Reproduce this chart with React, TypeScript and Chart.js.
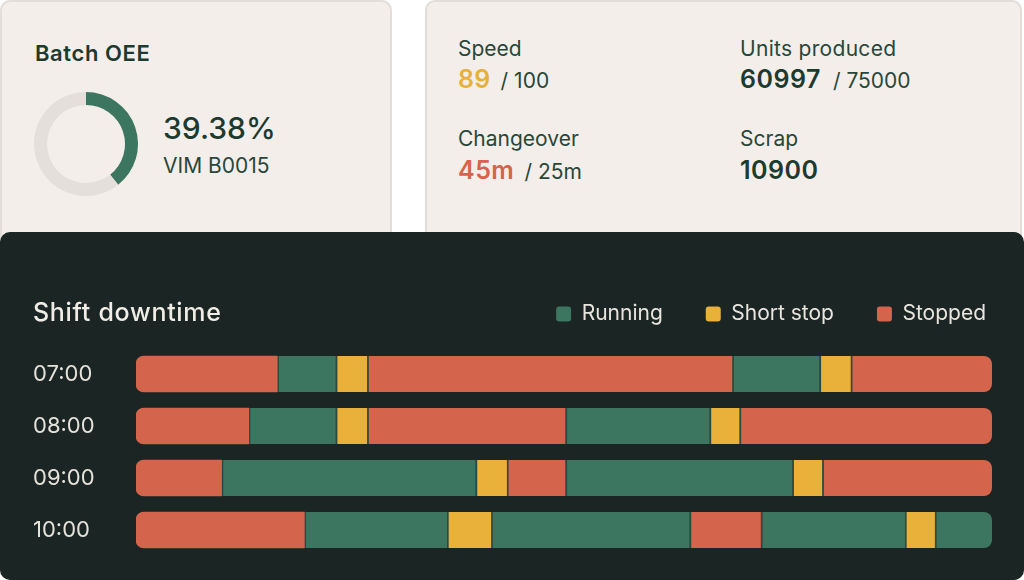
import React, { useEffect, useRef } from 'react';
import { Chart, registerables } from 'chart.js';

Chart.register(...registerables);

// ---------- data ----------
const hours = ['07:00', '08:00', '09:00', '10:00'];
const stateNames = ['Running', 'Short stop', 'Stopped'];
const stateColors = ['#3d7660', '#e9b03a', '#d4644b'];

const states07 = ['Stopped', 'Running', 'Short stop', 'Stopped', 'Running', 'Short stop', 'Stopped'];
const minutes07 = [9.9, 4.1, 2.2, 25.6, 6.1, 2.2, 9.9];
const states08 = ['Stopped', 'Running', 'Short stop', 'Stopped', 'Running', 'Short stop', 'Stopped'];
const minutes08 = [7.9, 6.1, 2.2, 13.9, 10.1, 2.1, 17.7];
const states09 = ['Stopped', 'Running', 'Short stop', 'Stopped', 'Running', 'Short stop', 'Stopped'];
const minutes09 = [6.0, 17.8, 2.2, 4.1, 15.9, 2.1, 11.9];
const states10 = ['Stopped', 'Running', 'Short stop', 'Running', 'Stopped', 'Running', 'Short stop', 'Running'];
const minutes10 = [11.8, 10.0, 3.1, 13.9, 5.0, 10.1, 2.1, 4.0];
const hourLength = 60;

const oeePercent = 39.38;
const batchCode = 'VIM B0015';
const speedValue = 89;
const speedTarget = 100;
const unitsValue = 60997;
const unitsTarget = 75000;
const changeoverValue = '45m';
const changeoverTarget = '25m';
const scrapValue = 10900;

// ---------- styles ----------
const FONT = 'Inter, "DejaVu Sans", sans-serif';
const DARK = '#1c3a2f';
const LABEL = '#28473b';
const PANEL = '#1a2524';
const SEP = '#2b4a41';

const rowStates = [states07, states08, states09, states10];
const rowMinutes = [minutes07, minutes08, minutes09, minutes10];

function Txt(props: { x: number; base: number; size: number; weight?: number; color: string; ls?: number; children: any }) {
  const { x, base, size, weight = 400, color, ls = 0, children } = props;
  return (
    <div
      style={{
        position: 'absolute',
        left: x,
        top: base - 0.864 * size,
        fontFamily: FONT,
        fontSize: size,
        fontWeight: weight,
        color,
        letterSpacing: ls,
        lineHeight: `${size}px`,
        whiteSpace: 'nowrap',
      }}
    >
      {children}
    </div>
  );
}

function Donut() {
  const ref = useRef<HTMLCanvasElement>(null);
  useEffect(() => {
    const chart = new Chart(ref.current!, {
      type: 'doughnut',
      data: {
        labels: ['OEE', 'Rest'],
        datasets: [
          {
            data: [oeePercent, 100 - oeePercent],
            backgroundColor: ['#3d7660', '#e4dfdb'],
            borderWidth: 0,
          },
        ],
      },
      options: {
        animation: false,
        responsive: false,
        maintainAspectRatio: false,
        cutout: '75%',
        plugins: { legend: { display: false }, tooltip: { enabled: false } },
        events: [],
      },
    });
    return () => chart.destroy();
  }, []);
  return <canvas ref={ref} width={104} height={104} style={{ position: 'absolute', left: 34, top: 92 }} />;
}

function Downtime() {
  const ref = useRef<HTMLCanvasElement>(null);
  useEffect(() => {
    const maxSeg = Math.max(...rowMinutes.map((m) => m.length));
    const colorOf = (s: string) => stateColors[stateNames.indexOf(s)];
    const datasets: any[] = [];
    for (let k = 0; k < maxSeg; k++) {
      const data = rowMinutes.map((mins) => {
        if (k >= mins.length) return null;
        let start = 0;
        for (let j = 0; j < k; j++) start += mins[j];
        return [start, start + mins[k]];
      });
      const bg = rowStates.map((st) => (k < st.length ? colorOf(st[k]) : 'rgba(0,0,0,0)'));
      datasets.push({
        label: 'seg' + k,
        data,
        backgroundColor: bg,
        borderColor: SEP,
        borderSkipped: false,
        grouped: false,
        barThickness: 36,
        xAxisID: 'x',
        yAxisID: 'y',
        borderWidth: () => ({ top: 0, right: 0, bottom: 0, left: k === 0 ? 0 : 2 }),
        borderRadius: (c: any) => {
          const n = rowMinutes[c.dataIndex].length;
          const first = k === 0;
          const last = k === n - 1;
          return {
            topLeft: first ? 8 : 0,
            bottomLeft: first ? 8 : 0,
            topRight: last ? 8 : 0,
            bottomRight: last ? 8 : 0,
          };
        },
      });
    }
    const chart = new Chart(ref.current!, {
      type: 'bar',
      data: { labels: hours, datasets },
      options: {
        animation: false,
        responsive: false,
        maintainAspectRatio: false,
        indexAxis: 'y',
        events: [],
        layout: { padding: { left: 33, right: 11, top: 28.5, bottom: 24 } },
        scales: {
          x: {
            type: 'linear',
            position: 'top',
            min: 0,
            max: hourLength,
            grid: { display: false },
            border: { display: false },
            ticks: { display: false },
            afterFit: (s: any) => {
              s.height = 13.5;
            },
          },
          y: {
            type: 'category',
            labels: hours,
            grid: { display: false },
            border: { display: false },
            ticks: {
              crossAlign: 'far',
              color: '#e6e2dc',
              font: { family: FONT, size: 22 },
            },
            afterFit: (s: any) => {
              s.width = 103;
            },
          },
          yRight: {
            type: 'linear',
            position: 'right',
            grid: { display: false },
            border: { display: false },
            ticks: { display: false },
            afterFit: (s: any) => {
              s.width = 37;
            },
          },
        },
        plugins: {
          tooltip: { enabled: false },
          legend: {
            position: 'top',
            align: 'end',
            onClick: () => {},
            labels: {
              boxWidth: 15,
              boxHeight: 15,
              padding: 43,
              color: '#e9e4de',
              useBorderRadius: true,
              borderRadius: 3,
              font: { family: FONT, size: 21 },
              generateLabels: () =>
                stateNames.map((n, i) => ({
                  text: n,
                  fillStyle: stateColors[i],
                  strokeStyle: stateColors[i],
                  lineWidth: 0,
                  fontColor: '#e9e4de',
                  hidden: false,
                  borderRadius: 3,
                  datasetIndex: i,
                })),
            },
          },
        },
      } as any,
    });
    return () => chart.destroy();
  }, []);
  return <canvas ref={ref} width={1040} height={348} style={{ position: 'absolute', left: 0, top: 0 }} />;
}

export default function App() {
  const card: React.CSSProperties = {
    position: 'absolute',
    top: 0,
    height: 270,
    background: '#f3eeea',
    border: '2px solid #e2ddd8',
    borderRadius: 10,
    boxSizing: 'border-box',
  };
  const small: React.CSSProperties = { fontSize: 21, fontWeight: 400, color: LABEL, letterSpacing: 0 };
  return (
    <div
      style={{
        position: 'fixed',
        left: 0,
        top: 0,
        width: 1024,
        height: 580,
        background: '#ffffff',
        overflow: 'hidden',
        fontFamily: FONT,
      }}
    >
      <div style={{ ...card, left: 0, width: 392 }} />
      <div style={{ ...card, left: 425, width: 597 }} />

      <Txt x={35} base={61} size={22} weight={600} color={DARK} ls={0.6}>
        Batch OEE
      </Txt>
      <Donut />
      <Txt x={163} base={139} size={30} weight={500} color={DARK}>
        {oeePercent.toFixed(2)}%
      </Txt>
      <Txt x={163} base={173} size={21} color={LABEL}>
        {batchCode}
      </Txt>

      <Txt x={458} base={56} size={21} color={LABEL}>
        Speed
      </Txt>
      <Txt x={458} base={89} size={25} weight={600} color="#e8b03b" ls={0.3}>
        {speedValue}
        <span style={{ ...small, marginLeft: 10 }}>/ {speedTarget}</span>
      </Txt>
      <Txt x={740} base={56} size={21} color={LABEL} ls={0.3}>
        Units produced
      </Txt>
      <Txt x={740} base={89} size={25} weight={600} color={DARK} ls={0.5}>
        {unitsValue}
        <span style={{ ...small, marginLeft: 12 }}>/ {unitsTarget}</span>
      </Txt>
      <Txt x={458} base={146} size={21} color={LABEL}>
        Changeover
      </Txt>
      <Txt x={458} base={180} size={25} weight={600} color="#d6634a" ls={0.5}>
        {changeoverValue}
        <span style={{ ...small, marginLeft: 10 }}>/ {changeoverTarget}</span>
      </Txt>
      <Txt x={740} base={146} size={21} color={LABEL}>
        Scrap
      </Txt>
      <Txt x={740} base={180} size={25} weight={600} color={DARK} ls={0.5}>
        {scrapValue}
      </Txt>

      <div
        style={{
          position: 'absolute',
          left: 0,
          top: 232,
          width: 1024,
          height: 348,
          background: PANEL,
          borderRadius: 10,
          overflow: 'hidden',
        }}
      >
        <Downtime />
        <Txt x={33} base={90} size={25} weight={500} color="#f0ece6" ls={0.7}>
          Shift downtime
        </Txt>
      </div>
    </div>
  );
}
